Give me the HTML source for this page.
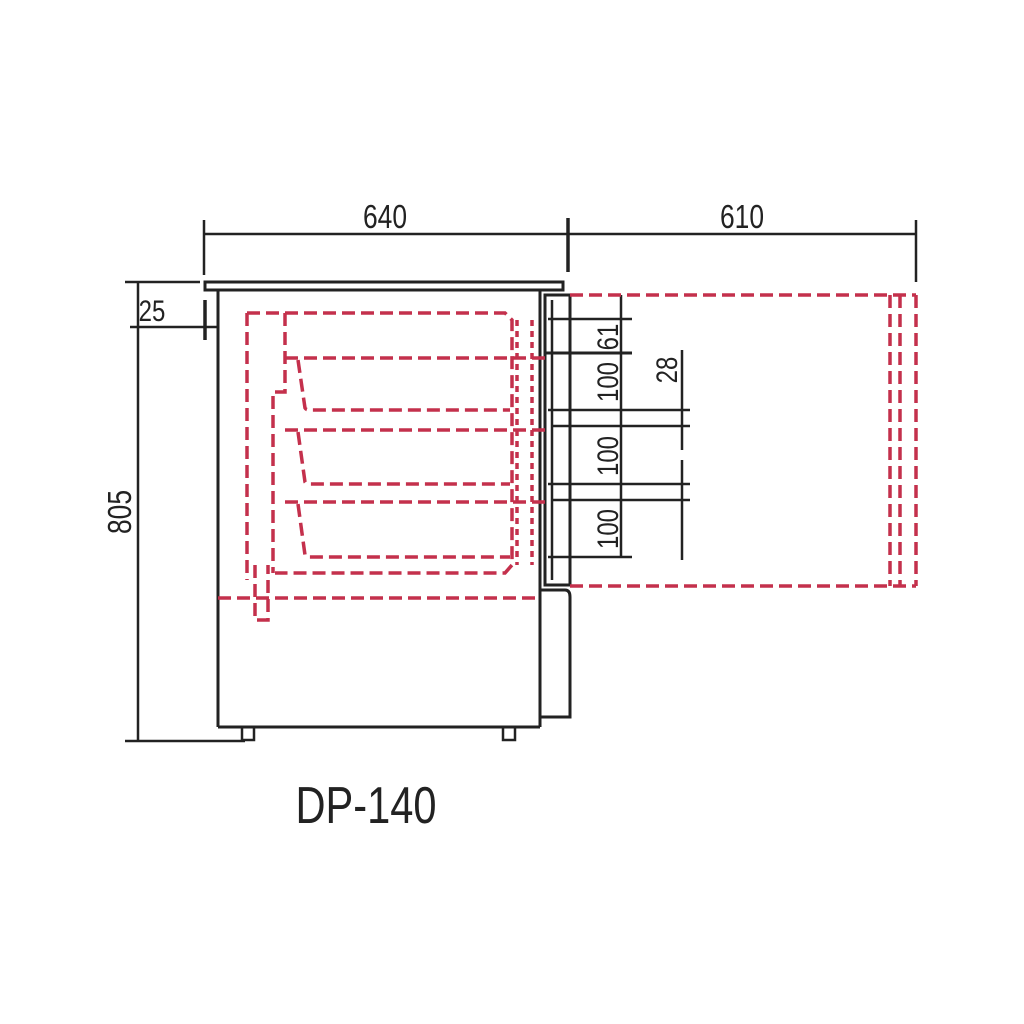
<!DOCTYPE html>
<html><head><style>body{margin:0;background:#fff}svg{display:block}</style></head><body>
<svg width="1024" height="1024" viewBox="0 0 1024 1024" xmlns="http://www.w3.org/2000/svg" font-family="Liberation Sans, sans-serif">
<rect width="1024" height="1024" fill="#fff"/>
<g stroke="#222" stroke-width="2.5" fill="none">
<line x1="204" y1="234" x2="916" y2="234"/>
<line x1="204" y1="220" x2="204" y2="275"/>
<line x1="568" y1="218" x2="568" y2="272" stroke-width="3.5"/>
<line x1="916" y1="220" x2="916" y2="282"/>
<line x1="138" y1="282" x2="138" y2="741"/>
<line x1="125" y1="282" x2="200" y2="282"/>
<line x1="125" y1="741" x2="245" y2="741"/>
<line x1="130" y1="327" x2="218" y2="327"/>
<line x1="205" y1="300" x2="205" y2="340" stroke-width="3.5"/>
<rect x="205" y="282" width="358" height="8" stroke-width="3"/>
<line x1="218" y1="290" x2="218" y2="727" stroke-width="3"/>
<line x1="218" y1="727" x2="540" y2="727" stroke-width="3"/>
<line x1="540" y1="290" x2="540" y2="727" stroke-width="3"/>
<rect x="545" y="295" width="25" height="290" stroke-width="3"/>
<line x1="552" y1="300" x2="552" y2="580"/>
<path d="M540 590 H565 Q570 590 570 597 V717 H540" stroke-width="3"/>
<rect x="242" y="727" width="12" height="13"/>
<rect x="503" y="727" width="12" height="13"/>
<line x1="548" y1="319" x2="632" y2="319"/>
<line x1="545" y1="353" x2="632" y2="353" stroke-width="3"/>
<line x1="548" y1="410" x2="690" y2="410"/>
<line x1="552" y1="426" x2="690" y2="426"/>
<line x1="548" y1="484" x2="690" y2="484"/>
<line x1="552" y1="500" x2="690" y2="500"/>
<line x1="548" y1="557" x2="632" y2="557"/>
<line x1="621" y1="295" x2="621" y2="557"/>
<line x1="682" y1="350" x2="682" y2="450"/>
<line x1="682" y1="460" x2="682" y2="560"/>
</g>
<g stroke="#c4304c" stroke-width="3.5" fill="none" stroke-dasharray="13 6">
<line x1="570" y1="295" x2="916" y2="295"/>
<line x1="570" y1="586" x2="916" y2="586"/>
<line x1="218" y1="598" x2="540" y2="598"/>
<line x1="890" y1="295" x2="890" y2="586"/>
<line x1="900" y1="295" x2="900" y2="586"/>
<line x1="916" y1="295" x2="916" y2="586"/>
<path d="M247 313 H505 L512 320 V565 L505 573 H275"/>
<line x1="247" y1="313" x2="247" y2="580"/>
<path d="M285 313 V392 H273 V573"/>
<path d="M255 565 V620 H268 V565"/>
<line x1="517" y1="320" x2="517" y2="565" stroke-dasharray="6 5"/>
<line x1="532" y1="320" x2="532" y2="565" stroke-dasharray="6 5"/>
<path d="M285 358 H545 M298 360 L305 408 Q306 410 310 410 H510"/>
<path d="M285 430 H545 M298 432 L305 482 Q306 484 310 484 H510"/>
<path d="M285 502 H545 M298 504 L305 555 Q306 557 310 557 H510"/>
</g>
<g fill="#222" font-size="33">
<text x="385" y="228" text-anchor="middle" transform="translate(385 0) scale(0.8 1) translate(-385 0)">640</text>
<text x="742" y="228" text-anchor="middle" transform="translate(742 0) scale(0.8 1) translate(-742 0)">610</text>
<text x="152" y="321" text-anchor="middle" font-size="30" transform="translate(152 0) scale(0.8 1) translate(-152 0)">25</text>
<text transform="translate(131 512) rotate(-90) scale(0.8 1)" text-anchor="middle">805</text>
<g font-size="30">
<text transform="translate(618 337) rotate(-90) scale(0.8 1)" text-anchor="middle">61</text>
<text transform="translate(618 382) rotate(-90) scale(0.8 1)" text-anchor="middle">100</text>
<text transform="translate(618 456) rotate(-90) scale(0.8 1)" text-anchor="middle">100</text>
<text transform="translate(618 529) rotate(-90) scale(0.8 1)" text-anchor="middle">100</text>
<text transform="translate(677 370) rotate(-90) scale(0.8 1)" text-anchor="middle">28</text>
</g>
<text x="366" y="823" font-size="52" text-anchor="middle" transform="translate(366 0) scale(0.8 1) translate(-366 0)">DP-140</text>
</g>
</svg>
</body></html>
